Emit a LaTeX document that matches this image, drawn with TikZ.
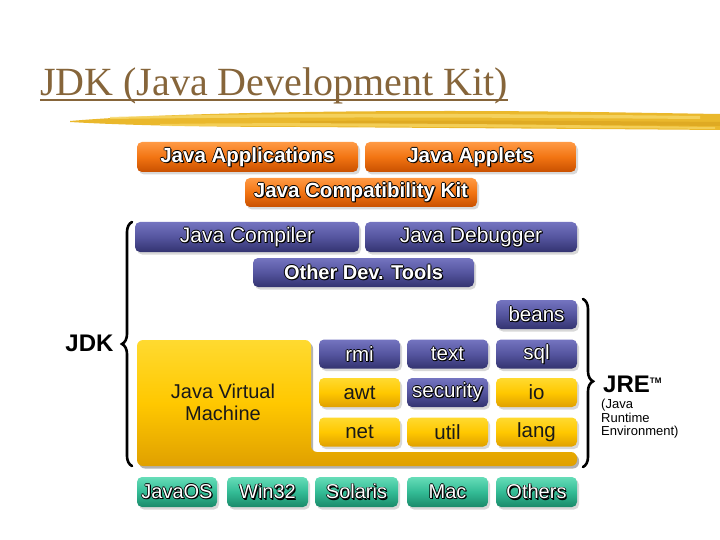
\documentclass[tikz,border=0pt]{standalone}
\usepackage{fontspec}
\setmainfont{Liberation Sans}
\newfontfamily\titlefont{Liberation Serif}
\usetikzlibrary{shadows,decorations.pathreplacing}
\definecolor{titlebrown}{HTML}{86653A}
\definecolor{brushA}{HTML}{EAB82C}
\definecolor{brushB}{HTML}{F7D869}
\definecolor{brushC}{HTML}{D9A21E}
\definecolor{oTop}{HTML}{FF9A45}
\definecolor{oMid}{HTML}{F27412}
\definecolor{oBot}{HTML}{C85000}
\definecolor{bTop}{HTML}{7474C0}
\definecolor{bMid}{HTML}{55559F}
\definecolor{bBot}{HTML}{333370}
\definecolor{yTop}{HTML}{FFDA30}
\definecolor{yMid}{HTML}{FFC800}
\definecolor{yBot}{HTML}{E0A000}
\definecolor{tTop}{HTML}{66DDB8}
\definecolor{tMid}{HTML}{33BB95}
\definecolor{tBot}{HTML}{1A8A6A}
\newcommand\otext[1]{\rlap{\kern0.8pt\color{black}#1}\rlap{\kern-0.8pt\color{black}#1}\rlap{\raisebox{0.8pt}{\color{black}#1}}\rlap{\raisebox{-0.8pt}{\color{black}#1}}\rlap{\kern1.2pt\raisebox{-1.2pt}{\color{black}#1}}#1}
\tikzset{
  box/.style={rounded corners=5pt, inner sep=0pt,
    drop shadow={shadow xshift=2pt,shadow yshift=-2.5pt,opacity=0.3}},
  obox/.style={box, top color=oTop, bottom color=oBot, middle color=oMid,
    text=white, font=\bfseries\fontsize{20.5}{20.5}\selectfont},
  bbox/.style={box, top color=bTop, bottom color=bBot, middle color=bMid,
    text=white, font=\fontsize{20.5}{20.5}\selectfont},
  ybox/.style={box, top color=yTop, bottom color=yBot, middle color=yMid,
    text=black!90, font=\fontsize{20.5}{20.5}\selectfont},
  tbox/.style={box, top color=tTop, bottom color=tBot, middle color=tMid,
    text=white, font=\fontsize{20}{20}\selectfont},
  pkg/.style={minimum width=81pt, minimum height=29pt},
  bracestyle/.style={decorate, line width=2.6pt, line cap=round}
}
\begin{document}
\begin{tikzpicture}[x=1pt,y=-1pt]
\useasboundingbox[fill=white] (0,0) rectangle (720,540);

% title
\node[anchor=base west, inner sep=0pt, text=titlebrown,
  font=\titlefont\fontsize{40}{40}\selectfont] (title) at (40,96) {JDK (Java Development Kit)};
\draw[titlebrown, line width=2pt] ([shift={(0,4)}]title.base west) -- ([shift={(0,4)}]title.base east);

% brush stroke
\fill[brushA] (70,121) .. controls (150,114) and (300,111) .. (450,111)
  .. controls (560,111) and (650,113) .. (720,114) -- (720,130)
  .. controls (600,129) and (450,128) .. (300,127)
  .. controls (200,127) and (120,125) .. (70,122) -- cycle;
\fill[brushC, opacity=0.6] (300,121) .. controls (450,120) and (600,121) .. (720,122)
  -- (720,126) .. controls (600,125) and (450,124) .. (300,124) -- cycle;
\fill[brushB, opacity=0.8] (110,117) .. controls (250,113) and (450,113) .. (700,116)
  -- (700,119) .. controls (450,117) and (250,117) .. (110,119) -- cycle;
\fill[brushB, opacity=0.7] (160,124) .. controls (300,122) and (500,124) .. (715,127)
  -- (715,129) .. controls (500,127) and (300,126) .. (160,126) -- cycle;

% top orange
\node[obox, minimum width=221pt, minimum height=30pt] (apps) at (247.5,157) {\otext{Java Applications}};
\node[obox, minimum width=211pt, minimum height=30pt] (applets) at (470.5,157) {\otext{Java Applets}};
\node[obox, minimum width=232pt, minimum height=29pt] (jck) at (361,192.5) {\otext{Java Compatibility Kit}};

% dev tools
\node[bbox, font=\fontsize{21}{21}\selectfont, minimum width=224pt, minimum height=30pt] (compiler) at (247,237) {\otext{Java Compiler}};
\node[bbox, font=\fontsize{21}{21}\selectfont, minimum width=212pt, minimum height=30pt] (debugger) at (471,237) {\otext{Java Debugger}};
\node[bbox, font=\bfseries\fontsize{20}{20}\selectfont, minimum width=221pt, minimum height=29pt] (otools) at (363.5,272.5) {\otext{Other Dev. Tools}};

% JVM
\fill[black, opacity=0.3, rounded corners=6pt, shift={(2,2.5)}] (137,340) -- (311,340) -- (311,452) -- (577,452) -- (577,466) -- (137,466) -- cycle;
\shade[top color=yTop, bottom color=yBot, middle color=yMid, rounded corners=6pt] (137,340) -- (311,340) -- (311,452) -- (577,452) -- (577,466) -- (137,466) -- cycle;
\node[align=center, text=black!90, font=\fontsize{20}{22}\selectfont] (jvm) at (223,402) {Java Virtual\\Machine};

% packages
\node[bbox, pkg] (beans) at (536.5,314.5) {\otext{beans}};
\node[bbox, pkg] (rmi) at (359.5,354) {\otext{rmi}};
\node[bbox, pkg] (text) at (447.5,354) {\otext{text}};
\node[bbox, pkg] (sql) at (536.5,354) {\otext{sql}};
\node[ybox, pkg] (awt) at (359.5,392.5) {awt};
\node[bbox, pkg] (security) at (447.5,392.5) {\otext{security}};
\node[ybox, pkg] (io) at (536.5,392.5) {io};
\node[ybox, pkg] (net) at (359.5,432) {net};
\node[ybox, pkg] (util) at (447.5,432) {util};
\node[ybox, pkg] (lang) at (536.5,432) {lang};

% platforms
\node[tbox, minimum width=80pt, minimum height=30pt] (javaos) at (177,492) {\otext{JavaOS}};
\node[tbox, minimum width=81pt, minimum height=30pt] (win32) at (267.5,492) {\otext{Win32}};
\node[tbox, minimum width=83pt, minimum height=30pt] (solaris) at (356.5,492) {\otext{Solaris}};
\node[tbox, minimum width=81pt, minimum height=30pt] (mac) at (447.5,492) {\otext{Mac}};
\node[tbox, minimum width=81pt, minimum height=30pt] (others) at (536.5,492) {\otext{Others}};

% braces
\coordinate (jdkA) at (132,466);
\coordinate (jdkB) at (132,222);
\draw[bracestyle, decoration={brace, amplitude=10pt, aspect=0.5}] (jdkA) -- (jdkB);
\node[font=\bfseries\fontsize{24}{24}\selectfont, anchor=east] (jdk) at (117,343) {JDK};

\coordinate (jreA) at (583,299);
\coordinate (jreB) at (583,467);
\draw[bracestyle, decoration={brace, amplitude=10pt, aspect=0.49}] (jreA) -- (jreB);
\node[font=\bfseries\fontsize{24}{24}\selectfont, anchor=west, inner sep=0pt] (jre) at (603,384) {JRE{\fontsize{8}{8}\selectfont\raisebox{9pt}{TM}}};
\node[font=\fontsize{13}{13.5}\selectfont, anchor=north west, align=left, inner sep=0pt] (jrefull) at (601,399) {(Java\\Runtime\\Environment)};
\end{tikzpicture}
\end{document}
